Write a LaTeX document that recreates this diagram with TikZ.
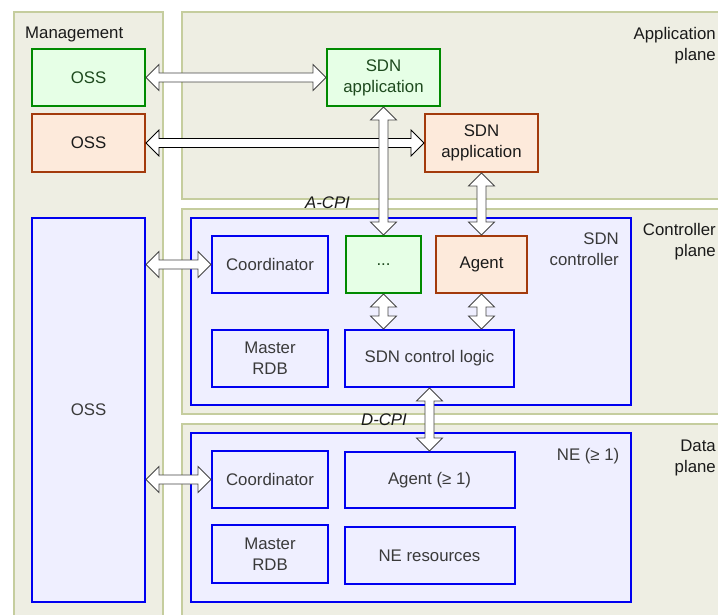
\documentclass[tikz,border=0pt]{standalone}
\usepackage{fontspec}
\setmainfont{Liberation Sans}
\usetikzlibrary{calc}

\definecolor{panelfill}{HTML}{EEEEE3}
\definecolor{panelline}{HTML}{C5CD9E}
\definecolor{grnfill}{HTML}{E6FFE6}
\definecolor{grnline}{HTML}{008A00}
\definecolor{grntext}{HTML}{1E4A1E}
\definecolor{orgfill}{HTML}{FDEADB}
\definecolor{orgline}{HTML}{A33A0C}
\definecolor{orgtext}{HTML}{1A1A1A}
\definecolor{blufill}{HTML}{EFEFFF}
\definecolor{bluline}{HTML}{0000F0}
\definecolor{blutext}{HTML}{3A3A3A}
\definecolor{lbltext}{HTML}{1A1A1A}
\definecolor{arrgray}{HTML}{454545}

% double-headed block arrow, horizontal: #2 = left tip, #3 = right tip
\newcommand\hdarrow[3][arrowline]{%
  \draw[#1] (#2) -- ($(#2)+(13,-13)$) -- ($(#2)+(13,-4.5)$)
    -- ($(#3)+(-13,-4.5)$) -- ($(#3)+(-13,-13)$) -- (#3)
    -- ($(#3)+(-13,13)$) -- ($(#3)+(-13,4.5)$)
    -- ($(#2)+(13,4.5)$) -- ($(#2)+(13,13)$) -- cycle;}
% double-headed block arrow, vertical: #2 = upper tip, #3 = lower tip
\newcommand\vdarrow[3][arrowline]{%
  \draw[#1] (#2) -- ($(#2)+(13,13)$) -- ($(#2)+(4.5,13)$)
    -- ($(#3)+(4.5,-13)$) -- ($(#3)+(13,-13)$) -- (#3)
    -- ($(#3)+(-13,-13)$) -- ($(#3)+(-4.5,-13)$)
    -- ($(#2)+(-4.5,13)$) -- ($(#2)+(-13,13)$) -- cycle;}

\begin{document}
\begin{tikzpicture}[x=1pt,y=-1pt,
  txt/.style={font=\fontsize{16.8}{21}\selectfont},
  panel/.style={draw=panelline, fill=panelfill, line width=1.2pt},
  box/.style={txt, draw, line width=2pt, inner sep=2pt, align=center},
  greenbox/.style={box, draw=grnline, fill=grnfill, text=grntext},
  orangebox/.style={box, draw=orgline, fill=orgfill, text=orgtext},
  bluebox/.style={box, draw=bluline, fill=blufill, text=blutext},
  container/.style={draw=bluline, fill=blufill, line width=2pt, inner sep=0pt},
  planelabel/.style={txt, inner sep=0pt, align=right, anchor=north east, text=lbltext},
  cpilabel/.style={txt, inner sep=0pt, anchor=base, font=\fontsize{16.8}{21}\selectfont\itshape, text=lbltext},
  arrowline/.style={draw=arrgray, fill=white, line width=0.8pt, line join=miter},
  arrowdark/.style={arrowline, draw=black}]

\useasboundingbox (0,0) rectangle (718,615);
\fill[white] (0,0) rectangle (718,615);

% planes
\draw[panel] (14,12) rectangle (163,630);
\draw[panel] (182,12) rectangle (735,199);
\draw[panel] (182,209) rectangle (735,414);
\draw[panel] (182,424) rectangle (735,630);

\node[txt, anchor=base west, inner sep=0pt, text=lbltext] (mgmt) at (25,39) {Management};
\node[planelabel] (applbl) at (716,26.7) {Application\\plane};
\node[planelabel] (ctrllbl) at (716,223) {Controller\\plane};
\node[planelabel] (datalbl) at (716,439.5) {Data\\plane};

% management side
\node[greenbox, minimum width=113pt, minimum height=57pt] (oss1) at (88.5,77.5) {OSS};
\node[orangebox, minimum width=113pt, minimum height=58pt] (oss2) at (88.5,143) {OSS};
\node[bluebox, minimum width=113pt, minimum height=384pt] (oss3) at (88.5,410) {OSS};

% application plane
\node[greenbox, minimum width=113pt, minimum height=57pt] (app1) at (383.5,77.5) {SDN\\application};
\node[orangebox, minimum width=113pt, minimum height=58pt] (app2) at (481.5,143) {SDN\\application};

% SDN controller
\node[container, minimum width=440pt, minimum height=187pt] (ctrl) at (411,311.5) {};
\node[planelabel, text=blutext] (ctrlname) at (619,233) {SDN\\controller};
\node[bluebox, minimum width=116pt, minimum height=57pt] (coord1) at (270,264.5) {Coordinator};
\node[greenbox, minimum width=75pt, minimum height=57pt] (dots) at (383.5,264.5) {...};
\node[orangebox, minimum width=91pt, minimum height=57pt] (agent) at (481.5,264.5) {Agent};
\node[bluebox, minimum width=116pt, minimum height=57pt] (rdb1) at (270,358.5) {Master\\RDB};
\node[bluebox, minimum width=169pt, minimum height=57pt] (logic) at (429.5,358.5) {SDN control logic};

% network element
\node[container, minimum width=440pt, minimum height=169pt] (ne) at (411,517.5) {};
\node[txt, inner sep=0pt, anchor=base east, text=blutext] (nename) at (619.5,460) {NE (≥ 1)};
\node[bluebox, minimum width=116pt, minimum height=57pt] (coord2) at (270,479.5) {Coordinator};
\node[bluebox, minimum width=170pt, minimum height=56pt] (agent2) at (429.5,480) {Agent (≥ 1)};
\node[bluebox, minimum width=116pt, minimum height=58pt] (rdb2) at (270,554) {Master\\RDB};
\node[bluebox, minimum width=170pt, minimum height=57pt] (res) at (429.5,555.5) {NE resources};

% interface labels
\node[cpilabel] (acpi) at (327.5,208.5) {A-CPI};
\node[cpilabel] (dcpi) at (384,425) {D-CPI};

% arrow end points on the facing borders
\coordinate (o3c1) at (oss3.east |- coord1.west);
\coordinate (o3c2) at (oss3.east |- coord2.west);
\coordinate (dotsl) at (dots.south |- logic.north);
\coordinate (agentl) at (agent.south |- logic.north);
\coordinate (logicne) at (logic.south |- agent2.north);

% connectors
\hdarrow{oss1.east}{app1.west}
\hdarrow[arrowdark]{oss2.east}{app2.west}
\vdarrow{app1.south}{dots.north}
\vdarrow{app2.south}{agent.north}
\vdarrow{dots.south}{dotsl}
\vdarrow{agent.south}{agentl}
\vdarrow{logic.south}{logicne}
\hdarrow{o3c1}{coord1.west}
\hdarrow{o3c2}{coord2.west}

\end{tikzpicture}
\end{document}
